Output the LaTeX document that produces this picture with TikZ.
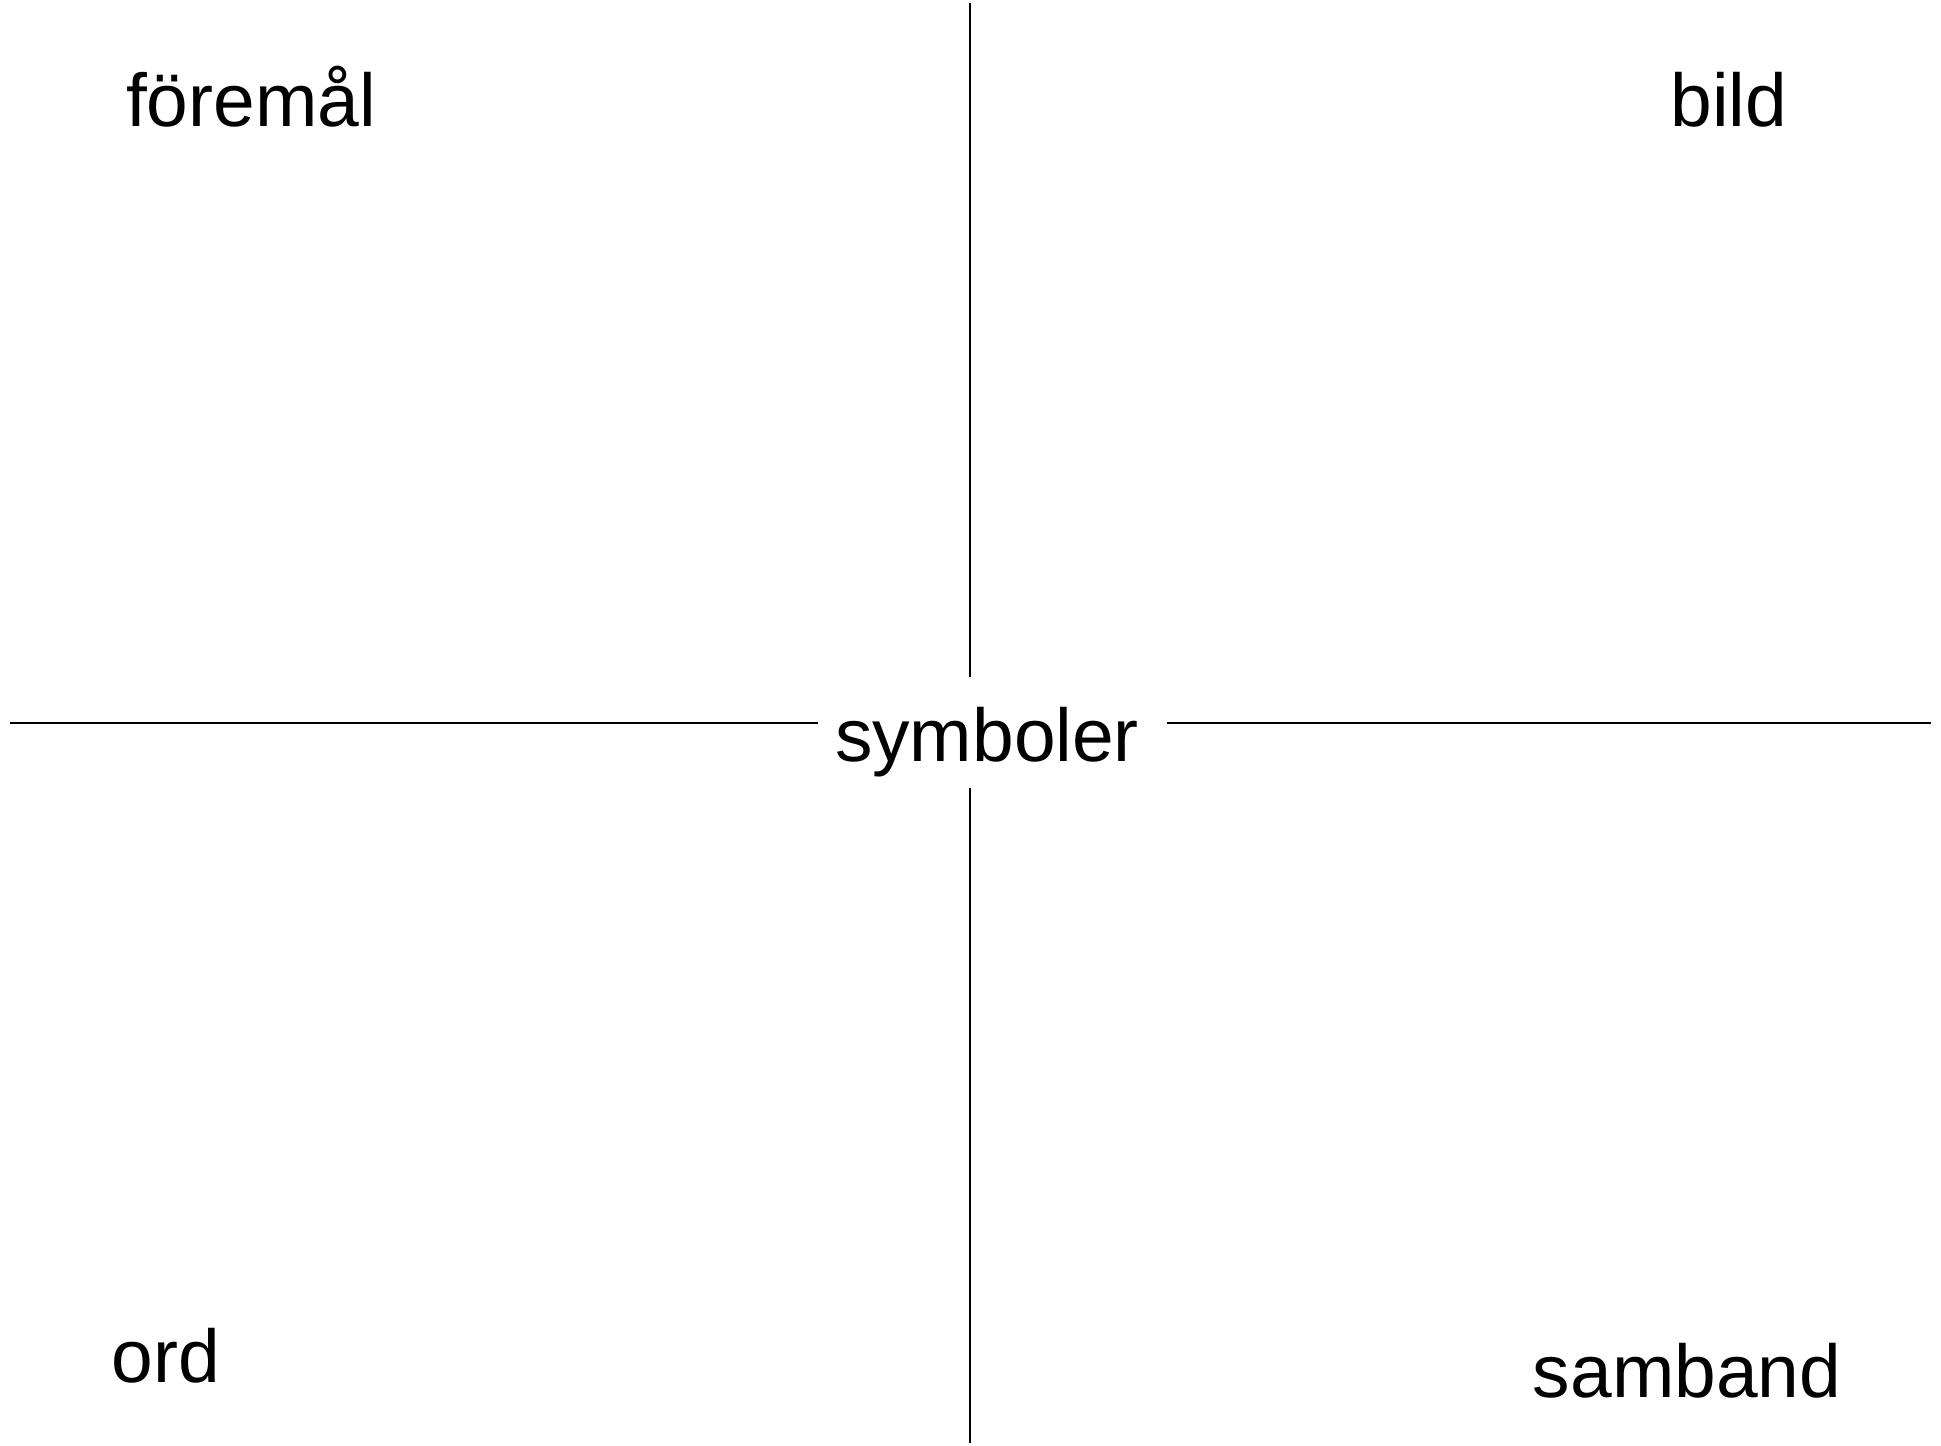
\documentclass[tikz,border=0pt]{standalone}
\usepackage{fontspec}
\setmainfont{Liberation Sans}

\begin{document}
\begin{tikzpicture}[x=0.01cm,y=-0.01cm,
  word/.style={anchor=base,inner sep=0pt,font=\fontsize{21.3}{25}\selectfont},
  axis/.style={line width=0.7pt}]
\def\cx{970}
\def\cy{723}

\useasboundingbox (0,0) rectangle (1941,1446);

%Ends of the cross:
\coordinate (W) at (10,\cy);
\coordinate (WI) at (818,\cy);
\coordinate (EI) at (1167,\cy);
\coordinate (E) at (1931,\cy);
\coordinate (N) at (\cx,3);
\coordinate (NI) at (\cx,677);
\coordinate (SI) at (\cx,788);
\coordinate (S) at (\cx,1443);

%Labels:
\node[word] (sym) at (987,762) {symboler};
\node[word] (obj) at (251,127) {föremål};
\node[word] (pic) at (1729,127) {bild};
\node[word] (ord) at (166,1382) {ord};
\node[word] (rel) at (1687,1397) {samband};

\draw[axis] (W) -- (WI);
\draw[axis] (EI) -- (E);
\draw[axis] (N) -- (NI);
\draw[axis] (SI) -- (S);

\end{tikzpicture}
\end{document}
